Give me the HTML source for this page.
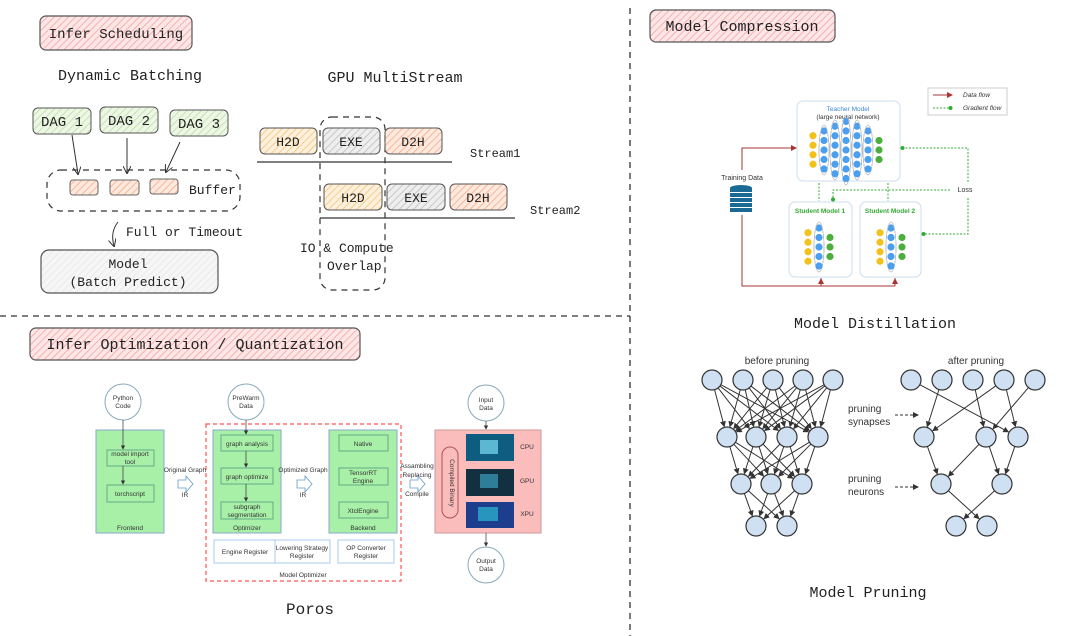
<!DOCTYPE html>
<html><head><meta charset="utf-8"><style>
html,body{margin:0;padding:0;background:#fff;width:1080px;height:636px;overflow:hidden}
svg{display:block}
.h{font-family:"Liberation Mono",monospace;fill:#222}
.s{font-family:"Liberation Sans",sans-serif;fill:#333}
</style></head><body>
<svg id="sv" width="1080" height="636" viewBox="0 0 1080 636" xmlns="http://www.w3.org/2000/svg">
<defs>
<pattern id="pk" width="5" height="5" patternUnits="userSpaceOnUse" patternTransform="rotate(45)"><rect width="5" height="5" fill="#fde6e6"/><line x1="0" y1="0" x2="0" y2="5" stroke="#f3a0a0" stroke-width="1.5"/></pattern>
<pattern id="gr" width="5" height="5" patternUnits="userSpaceOnUse" patternTransform="rotate(45)"><rect width="5" height="5" fill="#eef7e6"/><line x1="0" y1="0" x2="0" y2="5" stroke="#b8dca0" stroke-width="1.5"/></pattern>
<pattern id="or" width="5" height="5" patternUnits="userSpaceOnUse" patternTransform="rotate(45)"><rect width="5" height="5" fill="#fdf0dc"/><line x1="0" y1="0" x2="0" y2="5" stroke="#f5c070" stroke-width="1.5"/></pattern>
<pattern id="rd" width="5" height="5" patternUnits="userSpaceOnUse" patternTransform="rotate(45)"><rect width="5" height="5" fill="#fde9de"/><line x1="0" y1="0" x2="0" y2="5" stroke="#f5a880" stroke-width="1.5"/></pattern>
<pattern id="gy" width="5" height="5" patternUnits="userSpaceOnUse" patternTransform="rotate(45)"><rect width="5" height="5" fill="#eee"/><line x1="0" y1="0" x2="0" y2="5" stroke="#bbb" stroke-width="1.5"/></pattern>
<pattern id="lg" width="5" height="5" patternUnits="userSpaceOnUse" patternTransform="rotate(45)"><rect width="5" height="5" fill="#f6f6f6"/><line x1="0" y1="0" x2="0" y2="5" stroke="#e2e2e2" stroke-width="1.2"/></pattern>
<marker id="ar" markerWidth="8" markerHeight="8" refX="7" refY="4" orient="auto"><path d="M0,0 L8,4 L0,8" fill="none" stroke="#333" stroke-width="1"/></marker>
<marker id="af" markerWidth="6" markerHeight="6" refX="5" refY="3" orient="auto"><path d="M0,0 L6,3 L0,6z" fill="#333"/></marker>
<marker id="ared" markerWidth="6" markerHeight="6" refX="5" refY="3" orient="auto"><path d="M0,0 L6,3 L0,6z" fill="#a33"/></marker>
<marker id="agr" markerWidth="5" markerHeight="5" refX="4" refY="2.5" orient="auto"><circle cx="2.5" cy="2.5" r="2" fill="#3a3"/></marker>
</defs>

<line x1="630" y1="8" x2="630" y2="636" stroke="#333" stroke-width="1.3" stroke-dasharray="6,5"/>
<line x1="0" y1="316" x2="630" y2="316" stroke="#333" stroke-width="1.3" stroke-dasharray="6,5"/>

<rect x="40" y="16" width="152" height="34" rx="6" fill="url(#pk)" stroke="#555" stroke-width="1.2"/>
<text x="116" y="38" class="h" font-size="14" text-anchor="middle">Infer Scheduling</text>
<text x="130" y="80" class="h" font-size="15" text-anchor="middle">Dynamic Batching</text>
<rect x="33" y="108" width="58" height="26" rx="5" fill="url(#gr)" stroke="#555"/><text x="62" y="126" class="h" font-size="14" text-anchor="middle">DAG 1</text>
<rect x="100" y="107" width="58" height="26" rx="5" fill="url(#gr)" stroke="#555"/><text x="129" y="125" class="h" font-size="14" text-anchor="middle">DAG 2</text>
<rect x="170" y="110" width="58" height="26" rx="5" fill="url(#gr)" stroke="#555"/><text x="199" y="128" class="h" font-size="14" text-anchor="middle">DAG 3</text>
<rect x="47" y="170" width="193" height="41" rx="14" fill="none" stroke="#333" stroke-width="1.2" stroke-dasharray="6,5"/>
<rect x="70" y="180" width="28" height="15" rx="3" fill="url(#rd)" stroke="#666"/>
<rect x="110" y="180" width="29" height="15" rx="3" fill="url(#rd)" stroke="#666"/>
<rect x="150" y="179" width="28" height="15" rx="3" fill="url(#rd)" stroke="#666"/>
<text x="189" y="194" class="h" font-size="13">Buffer</text>
<line x1="72" y1="135" x2="78" y2="174" stroke="#333" marker-end="url(#ar)"/>
<line x1="127" y1="138" x2="127" y2="173" stroke="#333" marker-end="url(#ar)"/>
<line x1="180" y1="142" x2="166" y2="172" stroke="#333" marker-end="url(#ar)"/>
<path d="M118,222 Q110,232 114,246" fill="none" stroke="#333" marker-end="url(#ar)"/>
<text x="126" y="236" class="h" font-size="13">Full or Timeout</text>
<rect x="41" y="250" width="177" height="43" rx="8" fill="url(#lg)" stroke="#555" stroke-width="1.2"/>
<text x="128" y="268" class="h" font-size="13" text-anchor="middle">Model</text>
<text x="128" y="286" class="h" font-size="13" text-anchor="middle">(Batch Predict)</text>

<text x="395" y="82" class="h" font-size="15" text-anchor="middle">GPU MultiStream</text>
<rect x="320" y="117" width="65" height="173" rx="12" fill="none" stroke="#333" stroke-width="1.2" stroke-dasharray="6,5"/>
<rect x="260" y="128" width="57" height="26" rx="5" fill="url(#or)" stroke="#555"/><text x="288" y="146" class="h" font-size="13" text-anchor="middle">H2D</text>
<rect x="323" y="128" width="57" height="26" rx="5" fill="url(#gy)" stroke="#555"/><text x="351" y="146" class="h" font-size="13" text-anchor="middle">EXE</text>
<rect x="385" y="128" width="57" height="26" rx="5" fill="url(#rd)" stroke="#555"/><text x="413" y="146" class="h" font-size="13" text-anchor="middle">D2H</text>
<line x1="257" y1="162" x2="452" y2="162" stroke="#333" stroke-width="1.3"/>
<text x="470" y="157" class="h" font-size="12">Stream1</text>
<rect x="324" y="184" width="58" height="26" rx="5" fill="url(#or)" stroke="#555"/><text x="353" y="202" class="h" font-size="13" text-anchor="middle">H2D</text>
<rect x="387" y="184" width="58" height="26" rx="5" fill="url(#gy)" stroke="#555"/><text x="416" y="202" class="h" font-size="13" text-anchor="middle">EXE</text>
<rect x="450" y="184" width="57" height="26" rx="5" fill="url(#rd)" stroke="#555"/><text x="478" y="202" class="h" font-size="13" text-anchor="middle">D2H</text>
<line x1="320" y1="218" x2="515" y2="218" stroke="#333" stroke-width="1.3"/>
<text x="530" y="214" class="h" font-size="12">Stream2</text>
<text x="300" y="252" class="h" font-size="13">IO &amp; Compute</text>
<text x="327" y="270" class="h" font-size="13">Overlap</text>

<rect x="30" y="328" width="330" height="32" rx="6" fill="url(#pk)" stroke="#555" stroke-width="1.2"/>
<text x="195" y="349" class="h" font-size="15" text-anchor="middle">Infer Optimization / Quantization</text>

<g class="s" font-size="6.5" text-anchor="middle">
<rect x="206" y="424" width="195" height="157" fill="none" stroke="#f55" stroke-width="1.2" stroke-dasharray="4,3"/>
<circle cx="123" cy="402" r="18" fill="#fff" stroke="#8ab"/><text x="123" y="400">Python</text><text x="123" y="408">Code</text>
<rect x="96" y="430" width="68" height="103" fill="#a8f0a8" stroke="#8ac"/>
<rect x="107" y="450" width="47" height="16" fill="none" stroke="#6a8"/><text x="130" y="456">model import</text><text x="130" y="464">tool</text>
<rect x="107" y="485" width="47" height="17" fill="none" stroke="#6a8"/><text x="130" y="496">torchscript</text>
<text x="130" y="530">Frontend</text>
<line x1="123" y1="420" x2="123" y2="449" stroke="#333" stroke-width=".7" marker-end="url(#af)"/>
<line x1="123" y1="466" x2="123" y2="484" stroke="#333" stroke-width=".7" marker-end="url(#af)"/>
<circle cx="246" cy="402" r="18" fill="#fff" stroke="#8ab"/><text x="246" y="400">PreWarm</text><text x="246" y="408">Data</text>
<rect x="213" y="430" width="68" height="103" fill="#a8f0a8" stroke="#8ac"/>
<rect x="221" y="435" width="52" height="16" fill="none" stroke="#6a8"/><text x="247" y="446">graph analysis</text>
<rect x="221" y="468" width="52" height="16" fill="none" stroke="#6a8"/><text x="247" y="479">graph optimize</text>
<rect x="221" y="502" width="52" height="17" fill="none" stroke="#6a8"/><text x="247" y="509">subgraph</text><text x="247" y="517">segmentation</text>
<text x="247" y="530">Optimizer</text>
<line x1="246" y1="420" x2="246" y2="434" stroke="#333" stroke-width=".7" marker-end="url(#af)"/>
<line x1="246" y1="451" x2="246" y2="467" stroke="#333" stroke-width=".7" marker-end="url(#af)"/>
<line x1="246" y1="484" x2="246" y2="501" stroke="#333" stroke-width=".7" marker-end="url(#af)"/>
<rect x="329" y="430" width="68" height="103" fill="#a8f0a8" stroke="#8ac"/>
<rect x="339" y="435" width="49" height="16" fill="none" stroke="#6a8"/><text x="363" y="446">Native</text>
<rect x="339" y="468" width="49" height="17" fill="none" stroke="#6a8"/><text x="363" y="475">TensorRT</text><text x="363" y="483">Engine</text>
<rect x="339" y="502" width="49" height="16" fill="none" stroke="#6a8"/><text x="363" y="513">XtclEngine</text>
<text x="363" y="530">Backend</text>
<rect x="214" y="540" width="63" height="23" fill="#fff" stroke="#ace"/><text x="245" y="554">Engine Register</text>
<rect x="275" y="540" width="55" height="23" fill="#fff" stroke="#ace"/><text x="302" y="550">Lowering Strategy</text><text x="302" y="558">Register</text>
<rect x="338" y="540" width="56" height="23" fill="#fff" stroke="#ace"/><text x="366" y="550">OP Converter</text><text x="366" y="558">Register</text>
<text x="303" y="577">Model Optimizer</text>
<text x="185" y="472">Original Graph</text><text x="185" y="497">IR</text>
<text x="303" y="472">Optimized Graph</text><text x="303" y="497">IR</text>
<text x="417" y="468">Assambling</text><text x="417" y="477">Replacing</text><text x="417" y="496">Compile</text>
<rect x="435" y="430" width="106" height="103" fill="#fbbcbc" stroke="#c99"/>
<rect x="442" y="447" width="16" height="71" rx="8" fill="none" stroke="#a55"/>
<text x="450" y="483" transform="rotate(90 450 483)">Compiled Binary</text>
<rect x="466" y="434" width="48" height="27" fill="#0e5c80"/><rect x="480" y="440" width="18" height="14" fill="#7de0f5" opacity=".7"/>
<rect x="466" y="469" width="48" height="27" fill="#133040"/><rect x="480" y="474" width="18" height="14" fill="#3aa0c0" opacity=".7"/>
<rect x="466" y="502" width="48" height="26" fill="#1c3e8c"/><rect x="478" y="507" width="20" height="14" fill="#2fd0e0" opacity=".6"/>
<text x="527" y="449">CPU</text><text x="527" y="483">GPU</text><text x="527" y="516">XPU</text>
<circle cx="486" cy="403" r="18" fill="#fff" stroke="#8ab"/><text x="486" y="402">Input</text><text x="486" y="410">Data</text>
<circle cx="486" cy="565" r="18" fill="#fff" stroke="#8ab"/><text x="486" y="563">Output</text><text x="486" y="571">Data</text>
<line x1="486" y1="421" x2="486" y2="429" stroke="#333" stroke-width=".7" marker-end="url(#af)"/>
<line x1="486" y1="533" x2="486" y2="546" stroke="#333" stroke-width=".7" marker-end="url(#af)"/>
</g>
<path d="M178,480 h8 v-4 l7,8 l-7,8 v-4 h-8z" fill="#fff" stroke="#69c" stroke-width=".8"/>
<path d="M297,480 h8 v-4 l7,8 l-7,8 v-4 h-8z" fill="#fff" stroke="#69c" stroke-width=".8"/>
<path d="M410,480 h8 v-4 l7,8 l-7,8 v-4 h-8z" fill="#fff" stroke="#69c" stroke-width=".8"/>
<text x="310" y="614" class="h" font-size="16" text-anchor="middle">Poros</text>

<rect x="650" y="10" width="185" height="32" rx="6" fill="url(#pk)" stroke="#555" stroke-width="1.2"/>
<text x="742" y="31" class="h" font-size="15" text-anchor="middle">Model Compression</text>

<g class="s" font-size="6.5">
<rect x="928" y="88" width="79" height="27" fill="#fff" stroke="#ccc"/>
<line x1="933" y1="95" x2="952" y2="95" stroke="#a33" marker-end="url(#ared)"/><text x="963" y="97" font-style="italic">Data flow</text>
<line x1="933" y1="108" x2="952" y2="108" stroke="#3a3" stroke-dasharray="2,1.5" marker-end="url(#agr)"/><text x="963" y="110" font-style="italic">Gradient flow</text>
<rect x="797" y="101" width="103" height="80" rx="6" fill="#fff" stroke="#cde"/>
<text x="848" y="111" text-anchor="middle" fill="#3a8ad8">Teacher Model</text>
<text x="848" y="119" text-anchor="middle">(large neural network)</text>
<rect x="789" y="202" width="63" height="75" rx="6" fill="#fff" stroke="#cde"/>
<rect x="860" y="202" width="61" height="75" rx="6" fill="#fff" stroke="#cde"/>
<text x="820" y="213" text-anchor="middle" fill="#3a3" font-weight="bold">Student Model 1</text>
<text x="890" y="213" text-anchor="middle" fill="#3a3" font-weight="bold">Student Model 2</text>
<text x="742" y="180" text-anchor="middle" font-size="7">Training Data</text>
<text x="965" y="192" text-anchor="middle" font-size="7">Loss</text>
</g>
<g fill="#1b6a96"><rect x="730" y="188" width="22" height="4"/><rect x="730" y="193" width="22" height="4"/><rect x="730" y="198" width="22" height="4"/><rect x="730" y="203" width="22" height="4"/><rect x="730" y="208" width="22" height="4"/><ellipse cx="741" cy="188" rx="11" ry="3"/></g>
<path d="M742,170 V148 H796" fill="none" stroke="#a33" marker-end="url(#ared)"/>
<path d="M742,215 V286 H895 M821,286 V278 M895,286 V278" fill="none" stroke="#a33"/>
<path d="M821,284 V279" stroke="#a33" marker-end="url(#ared)"/><path d="M895,284 V279" stroke="#a33" marker-end="url(#ared)"/>
<g fill="none" stroke="#3a3" stroke-dasharray="2,1.5">
<path d="M968,182 V148 H901" marker-end="url(#agr)"/>
<path d="M968,198 V234 H922" marker-end="url(#agr)"/>
<path d="M950,190 H833 V201" marker-end="url(#agr)"/>
<path d="M819,183 V201"/><path d="M888,183 V201"/>
</g>

<g id="nets"></g>
<text x="875" y="328" class="h" font-size="15" text-anchor="middle">Model Distillation</text>

<g class="s" font-size="10">
<text x="777" y="364" text-anchor="middle">before pruning</text>
<text x="976" y="364" text-anchor="middle">after pruning</text>
<text x="848" y="412">pruning</text><text x="848" y="425">synapses</text>
<text x="848" y="482">pruning</text><text x="848" y="495">neurons</text>
</g>
<line x1="895" y1="415" x2="918" y2="415" stroke="#333" stroke-dasharray="3,2" marker-end="url(#af)"/>
<line x1="895" y1="487" x2="918" y2="487" stroke="#333" stroke-dasharray="3,2" marker-end="url(#af)"/>
<g id="prune"></g>
<text x="868" y="597" class="h" font-size="15" text-anchor="middle">Model Pruning</text>
</svg>
<script>
var NS="http://www.w3.org/2000/svg";
function el(p,t,a){var e=document.createElementNS(NS,t);for(var k in a)e.setAttribute(k,a[k]);p.appendChild(e);return e;}
var pr=document.getElementById("prune"),R=10;
function edge(a,b){var dx=b[0]-a[0],dy=b[1]-a[1],L=Math.hypot(dx,dy);
el(pr,"line",{x1:a[0]+dx/L*R,y1:a[1]+dy/L*R,x2:b[0]-dx/L*(R+1),y2:b[1]-dy/L*(R+1),stroke:"#333","stroke-width":1,"marker-end":"url(#af)"});}
var B=[[712,743,773,803,833],[727,756,787,818],[741,771,802],[756,787]],Y=[380,437,484,526];
for(var l=0;l<3;l++)for(var i=0;i<B[l].length;i++)for(var j=0;j<B[l+1].length;j++)edge([B[l][i],Y[l]],[B[l+1][j],Y[l+1]]);
var A=[[911,942,973,1004,1035],[924,986,1018],[941,1002],[956,987]];
var AE=[[0,0,2],[0,1,0],[0,2,1],[0,3,0],[0,3,2],[0,4,1],[1,0,0],[1,1,0],[1,1,1],[1,2,1],[2,0,1],[2,1,0]];
AE.forEach(function(e){edge([A[e[0]][e[1]],Y[e[0]]],[A[e[0]+1][e[2]],Y[e[0]+1]]);});
[B,A].forEach(function(N){N.forEach(function(r,l){r.forEach(function(x){el(pr,"circle",{cx:x,cy:Y[l],r:R,fill:"#cfe0f3",stroke:"#333","stroke-width":1.2});});});});
var nt=document.getElementById("nets");
function net(x0,yc,cols){cols.forEach(function(c,ci){var x=x0+ci*11;for(var k=0;k<c[0];k++){var y=yc+(k-(c[0]-1)/2)*9.5;
if(ci>0&&ci<cols.length-1)el(nt,"ellipse",{cx:x,cy:yc,rx:5,ry:c[0]*5,fill:"none",stroke:"#bbb","stroke-width":.5});
el(nt,"circle",{cx:x,cy:y,r:3.6,fill:c[1]});}});}
net(813,150,[[4,"#f2c21a"],[5,"#4a9ff0"],[6,"#4a9ff0"],[7,"#4a9ff0"],[6,"#4a9ff0"],[5,"#4a9ff0"],[3,"#4cae3c"]]);
net(808,247,[[4,"#f2c21a"],[5,"#4a9ff0"],[3,"#4cae3c"]]);
net(880,247,[[4,"#f2c21a"],[5,"#4a9ff0"],[3,"#4cae3c"]]);
</script>
</body></html>
